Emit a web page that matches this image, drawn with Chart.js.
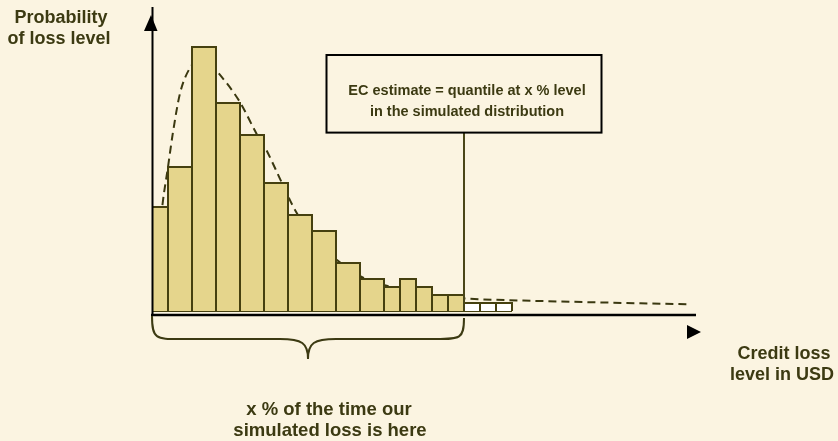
<!DOCTYPE html>
<html>
<head>
<meta charset="utf-8">
<script src="https://cdn.jsdelivr.net/npm/chart.js@4.4.1/dist/chart.umd.min.js"></script>
<style>
  html, body { margin: 0; padding: 0; background: #FBF4E1; }
  #wrap { width: 838px; height: 441px; position: relative; }
</style>
</head>
<body>
<div id="wrap"><canvas id="chart" width="838" height="441"></canvas></div>
<script>
// histogram bins (x in loss units, heights in probability units)
const binEdges = [0, 2, 5, 8, 11, 14, 17, 20, 23, 26, 29, 31, 33, 35, 37, 39];
const binHeights = [13, 18, 33, 26, 22, 16, 12, 10, 6, 4, 3, 4, 3, 2, 2];
// tail beyond the quantile (empty boxes)
const tailEdges = [39, 41, 43, 45];
const tailHeights = [1, 1, 1];
// fitted density (dashed)
const curveX = [1.0, 1.3, 2.0, 2.6, 3.5, 4.7, 6.4, 8.1, 11.0, 13.05, 14.1, 16.2, 18.0, 20.5, 23.2, 26.2, 30, 36, 39.3, 48.5, 67];
const curveY = [10, 13.2, 18.0, 22.2, 27.2, 30.3, 31.8, 30.0, 26.1, 22.2, 20.5, 16.1, 12.4, 9.0, 6.3, 4.25, 3.0, 1.8, 1.55, 1.25, 0.84];
const quantileX = 39;

const yTitle = ['Probability', 'of loss level'];
const xTitle = ['Credit loss', 'level in USD'];
const boxText = ['EC estimate = quantile at x % level', 'in the simulated distribution'];
const braceText = ['x % of the time our', 'simulated loss is here'];

const ink = '#3C3A12';
const barFill = '#E5D58C';
const barLine = '#45400F';

// turn bins into one outline path: up, across, down for each bin
function histPoints(edges, heights) {
    const pts = [];
    heights.forEach((h, i) => {
        pts.push({x: edges[i], y: 0});
        pts.push({x: edges[i], y: h});
        pts.push({x: edges[i + 1], y: h});
        pts.push({x: edges[i + 1], y: 0});
    });
    return pts;
}

const decorations = {
    id: 'decorations',
    afterDatasetsDraw(chart) {
        const {ctx, chartArea, scales: {x, y}} = chart;
        const x0 = x.getPixelForValue(0);
        const y0 = y.getPixelForValue(0);
        const axisY = chartArea.bottom;
        ctx.save();

        // axes
        ctx.strokeStyle = '#000';
        ctx.lineWidth = 2;
        ctx.beginPath();
        ctx.moveTo(x0 + 0.5, chartArea.top);
        ctx.lineTo(x0 + 0.5, axisY + 1);
        ctx.stroke();
        ctx.lineWidth = 2.5;
        ctx.beginPath();
        ctx.moveTo(x0 - 1, axisY);
        ctx.lineTo(chartArea.right, axisY);
        ctx.stroke();

        // arrow heads
        ctx.fillStyle = '#000';
        ctx.beginPath();
        ctx.moveTo(x0 - 1, chartArea.top + 8);
        ctx.lineTo(x0 - 8, chartArea.top + 24);
        ctx.lineTo(x0 + 5.5, chartArea.top + 24);
        ctx.closePath();
        ctx.fill();
        ctx.beginPath();
        ctx.moveTo(chartArea.right + 5, axisY + 17);
        ctx.lineTo(chartArea.right - 9, axisY + 10);
        ctx.lineTo(chartArea.right - 9, axisY + 24);
        ctx.closePath();
        ctx.fill();

        // quantile marker and box
        const qx = x.getPixelForValue(quantileX);
        const boxTop = y.getPixelForValue(32);
        const boxBottom = y.getPixelForValue(22.3);
        const boxW = 275;
        ctx.strokeStyle = '#4A4618';
        ctx.lineWidth = 2;
        ctx.beginPath();
        ctx.moveTo(qx, y0);
        ctx.lineTo(qx, boxBottom);
        ctx.stroke();
        ctx.strokeStyle = '#000';
        ctx.lineWidth = 2;
        ctx.strokeRect(qx - boxW / 2, boxTop, boxW, boxBottom - boxTop);

        // brace under the simulated part
        const bl = x.getPixelForValue(binEdges[0]);
        const br = x.getPixelForValue(quantileX);
        const bm = (bl + br) / 2;
        const top = axisY + 1;
        const mid = axisY + 24;
        const tip = axisY + 44;
        ctx.strokeStyle = ink;
        ctx.lineWidth = 2;
        ctx.beginPath();
        ctx.moveTo(bl, top);
        ctx.bezierCurveTo(bl, mid, bl + 4, mid, bl + 28, mid);
        ctx.lineTo(bm - 28, mid);
        ctx.bezierCurveTo(bm - 6, mid, bm, mid + 4, bm, tip);
        ctx.bezierCurveTo(bm, mid + 4, bm + 6, mid, bm + 28, mid);
        ctx.lineTo(br - 28, mid);
        ctx.bezierCurveTo(br - 4, mid, br, mid, br, top + 2);
        ctx.stroke();

        // texts
        ctx.fillStyle = ink;
        ctx.textAlign = 'center';
        ctx.textBaseline = 'alphabetic';
        ctx.font = 'bold 18px "Liberation Sans", Arial, sans-serif';
        ctx.fillText(yTitle[0], 61, 23);
        ctx.fillText(yTitle[1], 59, 44);
        ctx.fillText(xTitle[0], 784, 359);
        ctx.fillText(xTitle[1], 782, 380);
        ctx.font = 'bold 18.5px "Liberation Sans", Arial, sans-serif';
        ctx.fillText(braceText[0], 329, 415);
        ctx.fillText(braceText[1], 330, 436);
        ctx.font = 'bold 14.5px "Liberation Sans", Arial, sans-serif';
        ctx.fillText(boxText[0], qx + 3, 95);
        ctx.fillText(boxText[1], qx + 3, 116);
        ctx.restore();
    }
};

const histStyle = {
    borderColor: barLine,
    borderWidth: 2,
    borderJoinStyle: 'miter',
    pointRadius: 0,
    tension: 0,
    fill: 'origin'
};

new Chart(document.getElementById('chart'), {
    type: 'scatter',
    data: {
        datasets: [
            Object.assign({label: 'simulated', data: histPoints(binEdges, binHeights), showLine: true, backgroundColor: barFill}, histStyle),
            Object.assign({label: 'tail', data: histPoints(tailEdges, tailHeights), showLine: true, backgroundColor: '#FFFFFF'}, histStyle),
            {
                label: 'bottom',
                data: [{x: binEdges[0], y: 0}, {x: tailEdges[tailEdges.length - 1], y: 0}],
                showLine: true,
                borderColor: barLine,
                borderWidth: 2,
                pointRadius: 0
            },
            {
                label: 'density',
                data: curveX.map((v, i) => ({x: v, y: curveY[i]})),
                showLine: true,
                borderColor: '#3A3810',
                borderWidth: 2,
                borderDash: [8, 5],
                pointRadius: 0,
                cubicInterpolationMode: 'monotone',
                fill: false
            }
        ]
    },
    options: {
        responsive: false,
        animation: false,
        layout: {
            padding: {left: 152, top: 7, right: 142, bottom: 126}
        },
        scales: {
            x: {type: 'linear', min: 0, max: 68, display: false},
            y: {type: 'linear', min: -0.5, max: 38, display: false}
        },
        plugins: {
            legend: {display: false},
            tooltip: {enabled: false}
        }
    },
    plugins: [decorations]
});
</script>
</body>
</html>
